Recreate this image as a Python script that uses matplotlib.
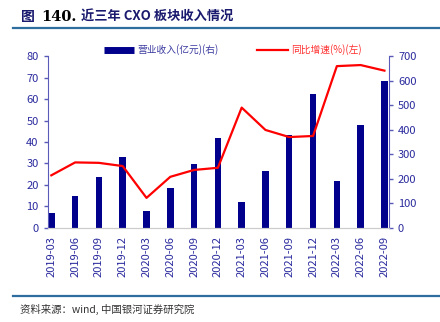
import matplotlib
matplotlib.use('Agg')
import matplotlib.pyplot as plt
from matplotlib.lines import Line2D

plt.rcParams['font.family'] = ['Noto Sans CJK SC', 'DejaVu Sans']

quarters = ['2019-03', '2019-06', '2019-09', '2019-12', '2020-03', '2020-06',
            '2020-09', '2020-12', '2021-03', '2021-06', '2021-09', '2021-12',
            '2022-03', '2022-06', '2022-09']
revenue = [61, 131, 206, 289, 70, 162, 260, 368, 107, 232, 377, 544, 191, 418, 600]
growth = [24.5, 30.5, 30.3, 28.8, 14.0, 23.8, 27.0, 28.0, 56.0, 45.6, 42.3, 42.8,
          75.3, 75.8, 73.2]

navy = '#00008C'
tick_col = '#2A2A9E'
spine_col = '#5A5AB8'

fig = plt.figure(figsize=(4.4, 3.22), dpi=100)

# title and frame lines
fig.text(0.048, 0.947, '图', fontsize=10, fontweight='bold', color='#1A1A6E', va='center')
fig.text(0.094, 0.947, '140.', fontsize=10.5, fontweight='bold', color='black',
         family='DejaVu Serif', va='center')
fig.text(0.184, 0.947, '近三年 CXO 板块收入情况', fontsize=9.5, fontweight='bold',
         color='#1A1A6E', va='center')
fig.add_artist(Line2D([0.03, 1.0], [0.912, 0.912], color='#2E6E9E', lw=1.6))
fig.add_artist(Line2D([0.03, 1.0], [0.082, 0.082], color='#2E6E9E', lw=1.6))
fig.text(0.045, 0.04, '资料来源：wind, 中国银河证券研究院', fontsize=7.5,
         style='italic', color='#333333', va='center')

ax = fig.add_axes([0.108, 0.292, 0.776, 0.534])
ax2 = ax.twinx()

x = list(range(len(quarters)))
ax2.bar(x, revenue, width=0.27, color=navy, zorder=2)
ax.plot(x, growth, color='#FF0000', lw=1.6, zorder=3)

ax.set_zorder(ax2.get_zorder() + 1)
ax.patch.set_visible(False)

ax.set_xlim(-0.16, 14.19)
ax.set_ylim(0, 80)
ax2.set_ylim(0, 700)
ax.set_yticks(range(0, 81, 10))
ax2.set_yticks(range(0, 701, 100))
ax.set_xticks(x)
ax.set_xticklabels(quarters, rotation=90)

for a in (ax, ax2):
    a.spines['top'].set_visible(False)
    a.spines['left'].set_color(spine_col)
    a.spines['right'].set_color(spine_col)
    a.spines['bottom'].set_color('#CCCCCC')
    a.tick_params(axis='y', colors=spine_col, labelcolor=tick_col, labelsize=8,
                  length=3, width=1)
ax.tick_params(axis='x', length=0, labelcolor=tick_col, labelsize=8, pad=6)
ax2.spines['left'].set_visible(False)
ax.spines['right'].set_visible(False)

# legend drawn as figure text
fig.add_artist(Line2D([0.236, 0.305], [0.845, 0.845], color=navy, lw=5, solid_capstyle='butt'))
fig.text(0.312, 0.845, '营业收入(亿元)(右)', fontsize=7, color='#3A3AA0', va='center')
fig.add_artist(Line2D([0.585, 0.655], [0.845, 0.845], color='#FF0000', lw=1.6))
fig.text(0.662, 0.845, '同比增速(%)(左)', fontsize=7, color='#FF3030', va='center')

fig.savefig('out.png', dpi=100)
